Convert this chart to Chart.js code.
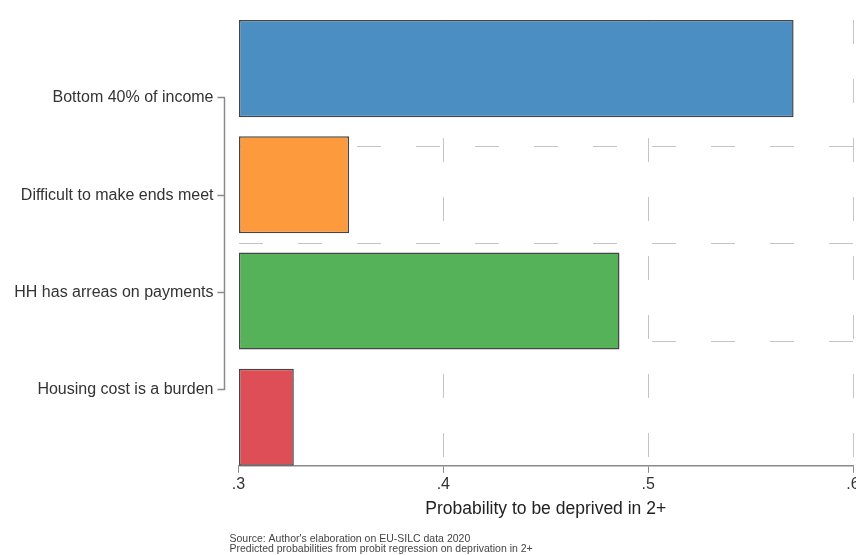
<!DOCTYPE html>
<html>
<head>
<meta charset="utf-8">
<script src="https://cdn.jsdelivr.net/npm/chart.js@4.4.1/dist/chart.umd.min.js"></script>
<style>
  body { margin: 0; background: #fff; }
  #wrap { width: 856px; height: 555px; }
</style>
</head>
<body>
<div id="wrap"><canvas id="probChart" width="856" height="555"></canvas></div>
<script>
const categories = ['Bottom 40% of income', 'Difficult to make ends meet', 'HH has arreas on payments', 'Housing cost is a burden'];
const probabilities = [0.571, 0.354, 0.486, 0.327];
const barColors = ['#4b8ec2', '#fd9a3e', '#55b259', '#de4e56'];
const xTicks = [0.3, 0.4, 0.5, 0.6];
const notes = ["Source: Author's elaboration on EU-SILC data 2020", 'Predicted probabilities from probit regression on deprivation in 2+'];

const barFrac = 0.836;
const gridGray = '#c4c4c4';
const axisGray = '#8a8a8a';
const fontFamily = '"Liberation Sans", Arial, sans-serif';

// label axis: categories at integers, dashed grid at the half steps between them
const labelTicks = [];
categories.forEach((c, i) => {
    labelTicks.push(i + 1);
    if (i < categories.length - 1) labelTicks.push(i + 1.5);
});

const extras = {
    id: 'extras',
    afterDraw(chart) {
        const ctx = chart.ctx;
        const yl = chart.scales.yl;
        ctx.save();
        ctx.strokeStyle = axisGray;
        ctx.lineWidth = 1.5;
        ctx.beginPath();
        ctx.moveTo(yl.right, yl.getPixelForValue(1));
        ctx.lineTo(yl.right, yl.getPixelForValue(categories.length));
        ctx.stroke();

        ctx.fillStyle = '#444';
        ctx.font = '10.5px ' + fontFamily;
        ctx.textBaseline = 'middle';
        ctx.fillText(notes[0], chart.chartArea.left - 9, chart.height - 16);
        ctx.fillText(notes[1], chart.chartArea.left - 9, chart.height - 6);
        ctx.restore();
    }
};

new Chart(document.getElementById('probChart').getContext('2d'), {
    type: 'bar',
    data: {
        datasets: [{
            data: probabilities.map((v, i) => ({ x: v, y: i + 1 })),
            backgroundColor: barColors,
            borderColor: '#454545',
            borderWidth: 1.5,
            borderSkipped: false,
            base: xTicks[0],
            categoryPercentage: 1,
            barPercentage: barFrac
        }]
    },
    options: {
        indexAxis: 'y',
        responsive: false,
        animation: false,
        layout: { padding: { left: 15, right: 3, top: 20, bottom: 35 } },
        plugins: {
            legend: { display: false },
            tooltip: { enabled: false }
        },
        scales: {
            x: {
                type: 'linear',
                min: xTicks[0],
                max: xTicks[xTicks.length - 1],
                afterBuildTicks: s => { s.ticks = xTicks.map(v => ({ value: v })); },
                afterFit: s => { s.paddingLeft = 0; s.paddingRight = 0; },
                ticks: {
                    callback: v => v.toFixed(1).replace(/^0/, ''),
                    color: '#333',
                    font: { family: fontFamily, size: 16 },
                    padding: 2,
                    maxRotation: 0
                },
                grid: {
                    color: c => (c.tick && c.tick.value === xTicks[0]) ? 'rgba(0,0,0,0)' : gridGray,
                    tickColor: axisGray,
                    tickLength: 7,
                    tickBorderDash: [],
                    lineWidth: 1
                },
                border: { color: axisGray, width: 1.5, dash: [24, 35] },
                title: {
                    display: true,
                    text: 'Probability to be deprived in 2+',
                    color: '#222',
                    font: { family: fontFamily, size: 17.5 },
                    padding: { top: 3, bottom: 0 }
                }
            },
            y: {
                type: 'linear',
                position: 'left',
                reverse: true,
                offset: false,
                weight: 0,
                min: 1 - barFrac / 2,
                max: categories.length + barFrac / 2,
                afterBuildTicks: s => { s.ticks = categories.map((c, i) => ({ value: i + 1 })); },
                afterFit: s => { s.width = 14; },
                ticks: { display: false },
                grid: { display: false, drawTicks: false, offset: false },
                border: { display: false }
            },
            yl: {
                type: 'linear',
                position: 'left',
                reverse: true,
                offset: false,
                weight: 1,
                min: 0.2,
                max: 4.78,
                afterBuildTicks: s => { s.ticks = labelTicks.map(v => ({ value: v })); },
                ticks: {
                    callback: v => Number.isInteger(v) ? categories[v - 1] : '',
                    color: '#333',
                    font: { family: fontFamily, size: 16 },
                    padding: 4,
                    autoSkip: false
                },
                grid: {
                    offset: false,
                    color: c => (c.tick && Number.isInteger(c.tick.value)) ? 'rgba(0,0,0,0)' : gridGray,
                    tickColor: c => (c.tick && Number.isInteger(c.tick.value)) ? axisGray : 'rgba(0,0,0,0)',
                    tickLength: 7,
                    tickWidth: 1.5,
                    tickBorderDash: []
                },
                border: { display: false, dash: [24, 35] }
            }
        }
    },
    plugins: [extras]
});
</script>
</body>
</html>
